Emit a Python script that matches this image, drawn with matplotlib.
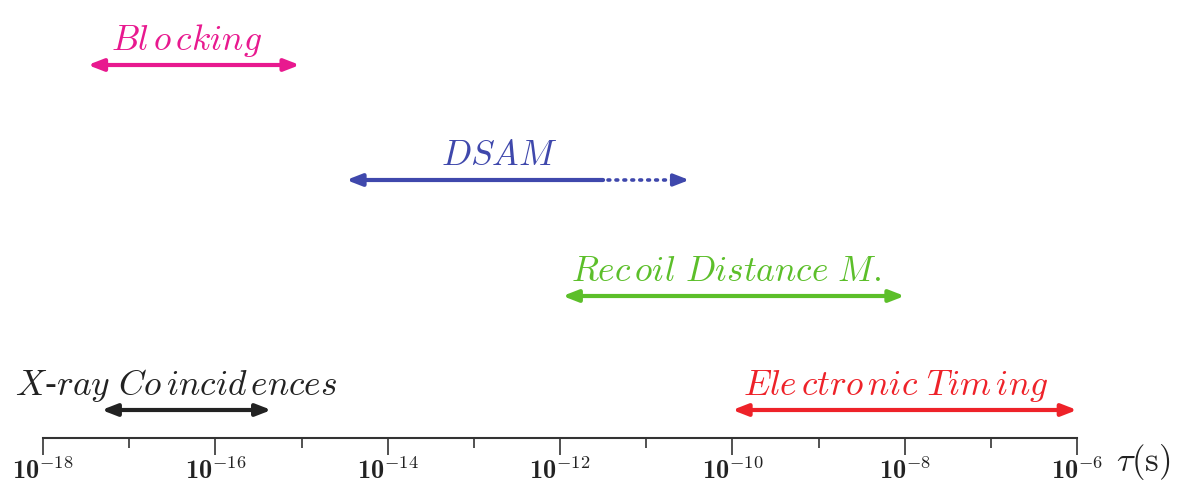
import os
import matplotlib
matplotlib.use("Agg")
import matplotlib.pyplot as plt
from matplotlib.ticker import FixedLocator, FixedFormatter
from matplotlib.font_manager import FontProperties

plt.rcParams['mathtext.fontset'] = 'cm'
plt.rcParams['font.family'] = 'serif'

# ---- data ----
methods = ['Blocking', 'DSAM', 'Recoil Distance M.', 'Electronic Timing', 'X-ray Coincidences']
labels_tex = [r'$Bl\,o\,cking$', r'$DSAM$', r'$Rec\,oil\ Distance\ M.$',
              r'$Ele\,ctro\,nic\ Tim\,ing$', r'$X$-$ray\ Co\,incid\,ences$']
log_lo = [-17.48, -14.48, -11.97, -10.0, -17.32]
log_hi = [-15.02, -11.5, -8.0, -6.0, -15.35]
dsam_extension_hi = -10.5
colors = ['#E8198F', '#3F48AC', '#5CBF2A', '#EE2229', '#222222']
label_center_log = [-16.33, -12.7, -10.07, -8.1, -16.45]
decades = list(range(-18, -5))
labelled_decades = [d for d in decades if d % 2 == 0]

# ---- layout ----
arrow_y = [373, 258, 142, 28, 28]
label_dy = 15

fig = plt.figure(figsize=(11.86, 4.83), dpi=100)
ax = fig.add_axes([43 / 1186, 45 / 483, 1034 / 1186, 438 / 483])
ax.set_xscale('log')
ax.set_xlim(10.0 ** -18, 10.0 ** -6)
ax.set_ylim(0, 438)
for s in ['top', 'left', 'right']:
    ax.spines[s].set_visible(False)
ax.spines['bottom'].set_color('#333333')
ax.spines['bottom'].set_linewidth(1.5)
ax.set_yticks([])
ax.patch.set_alpha(0)

ax.xaxis.set_major_locator(FixedLocator([10.0 ** d for d in labelled_decades]))
ax.xaxis.set_major_formatter(FixedFormatter([r'10$^{%d}$' % d for d in labelled_decades]))
ax.xaxis.set_minor_locator(FixedLocator([10.0 ** d for d in decades if d % 2 != 0]))
ax.xaxis.set_minor_formatter(FixedFormatter([]))
ax.tick_params(axis='x', which='major', length=12, width=1.2, color='#333333',
               pad=2, labelcolor='#222222')
ax.tick_params(axis='x', which='minor', length=7, width=1.2, color='#333333')

bold_path = os.path.join(matplotlib.get_data_path(), 'fonts', 'ttf', 'cmb10.ttf')
fp = FontProperties(fname=bold_path, size=19)
for lbl in ax.get_xticklabels():
    lbl.set_fontproperties(fp)

for i, name in enumerate(methods):
    y = arrow_y[i]
    c = colors[i]
    x0, x1 = 10.0 ** log_lo[i], 10.0 ** log_hi[i]
    if name == 'DSAM':
        ax.annotate('', xy=(x0, y), xytext=(x1, y),
                    arrowprops=dict(arrowstyle='-|>,head_length=0.9,head_width=0.35',
                                    color=c, lw=3, shrinkA=0, shrinkB=0), annotation_clip=False)
        xe = 10.0 ** dsam_extension_hi
        ax.plot([x1 * 1.15, xe / 1.35], [y, y], color=c, lw=2.6, linestyle=(0, (0.5, 1.7)),
                dash_capstyle='round', solid_capstyle='round')
        ax.annotate('', xy=(xe, y), xytext=(xe / 1.4, y),
                    arrowprops=dict(arrowstyle='-|>,head_length=0.9,head_width=0.35',
                                    color=c, lw=2.6, shrinkA=0, shrinkB=0), annotation_clip=False)
    else:
        ax.annotate('', xy=(x0, y), xytext=(x1, y),
                    arrowprops=dict(arrowstyle='<|-|>,head_length=0.9,head_width=0.35',
                                    color=c, lw=3, shrinkA=0, shrinkB=0), annotation_clip=False)
    ax.text(10.0 ** label_center_log[i], y + label_dy, labels_tex[i], color=c,
            fontsize=25.5, ha='center', va='baseline')

fig.text(1143 / 1186, 1 - 462 / 483, r'$\tau(\mathrm{s})$', fontsize=25, ha='center',
         va='center', color='#222222')

fig.savefig('out.png', dpi=100)
